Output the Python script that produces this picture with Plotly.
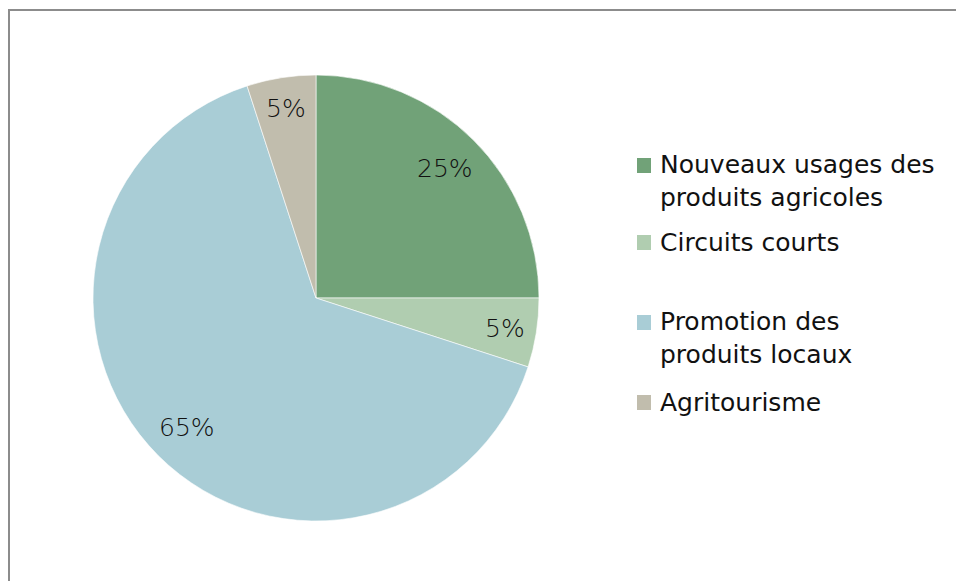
import math
import plotly.graph_objects as go

# Répartition des projets par thématique
categories = [
    "Nouveaux usages des produits agricoles",
    "Circuits courts",
    "Promotion des produits locaux",
    "Agritourisme",
]
legend_labels = [
    "Nouveaux usages des<br>produits agricoles",
    "Circuits courts",
    "Promotion des<br>produits locaux",
    "Agritourisme",
]
values = [25, 5, 65, 5]
colors = ["#71A278", "#B0CDB0", "#A9CDD6", "#C1BDAD"]

W, H = 956, 581
FONT = "Century Gothic, URW Gothic, DejaVu Sans, sans-serif"

# pie geometry in pixels
cx, cy, r = 316, 298, 223

fig = go.Figure(
    go.Pie(
        labels=categories,
        values=values,
        marker=dict(colors=colors, line=dict(color="white", width=0.6)),
        sort=False,
        direction="clockwise",
        rotation=0,
        textinfo="none",
        hoverinfo="label+percent",
        showlegend=False,
        domain=dict(
            x=[(cx - r) / W, (cx + r) / W],
            y=[(H - cy - r) / H, (H - cy + r) / H],
        ),
    )
)

annotations = []
shapes = []

# percentage labels at slice mid-angles; larger slices sit a bit further in
total = sum(values)
acc = 0
for v in values:
    frac = v / total
    mid = (acc + v / 2) / total * 2 * math.pi
    acc += v
    rr = (0.86 if frac < 0.1 else 0.82) * r
    px = cx + rr * math.sin(mid)
    py = cy - rr * math.cos(mid)
    annotations.append(dict(
        x=px / W, y=1 - py / H, xref="paper", yref="paper",
        text=f"{round(frac * 100)}%", showarrow=False,
        font=dict(family=FONT, size=25, color="#111111", weight=300),
        xanchor="center", yanchor="middle",
    ))

# legend: colour squares and text
legend_y = [181, 242, 338, 402]
for lab, col, ly in zip(legend_labels, colors, legend_y):
    first_line_y = ly - 16 if "<br>" in lab else ly
    shapes.append(dict(
        type="rect", xref="paper", yref="paper",
        x0=637 / W, x1=651 / W,
        y0=1 - (first_line_y + 8) / H, y1=1 - (first_line_y - 7) / H,
        fillcolor=col, line=dict(width=0),
    ))
    annotations.append(dict(
        x=658 / W, y=1 - ly / H, xref="paper", yref="paper",
        text=lab, showarrow=False, align="left",
        font=dict(family=FONT, size=25, color="#111111"),
        xanchor="left", yanchor="middle",
    ))

# chart frame
shapes.append(dict(
    type="rect", xref="paper", yref="paper",
    x0=9 / W, x1=1.05, y0=-0.05, y1=1 - 10 / H,
    line=dict(color="#8C8C8C", width=2), fillcolor="rgba(0,0,0,0)",
))

fig.update_layout(
    width=W, height=H,
    margin=dict(l=0, r=0, t=0, b=0),
    paper_bgcolor="white",
    plot_bgcolor="white",
    annotations=annotations,
    shapes=shapes,
)

fig.write_html("out.html")
